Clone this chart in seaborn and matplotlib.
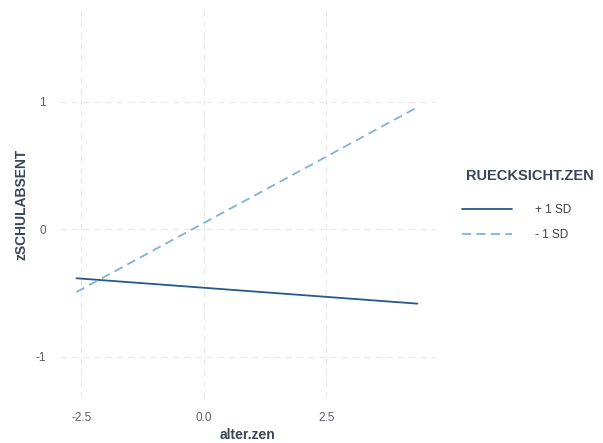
import matplotlib
matplotlib.use("Agg")
import matplotlib.pyplot as plt
import seaborn as sns
import pandas as pd
from matplotlib.lines import Line2D

# Simple slopes of zSCHULABSENT on alter.zen at +/- 1 SD of RUECKSICHT.ZEN
alter_zen = [-2.6, 4.36]
plus_1sd = [-0.386, -0.585]
minus_1sd = [-0.494, 0.955]
groups = ["+ 1 SD", "- 1 SD"]
x_ticks = [-2.5, 0.0, 2.5]
y_ticks = [-1, 0, 1]

df = pd.DataFrame({
    "alter.zen": alter_zen * 2,
    "zSCHULABSENT": plus_1sd + minus_1sd,
    "RUECKSICHT.ZEN": [groups[0]] * len(alter_zen) + [groups[1]] * len(alter_zen),
})

sns.set_theme(style="white")
plt.rcParams["font.family"] = ["Liberation Sans", "DejaVu Sans"]

colors = {"+ 1 SD": "#245a8c", "- 1 SD": "#80b1de"}
title_color = "#3a4556"

fig = plt.figure(figsize=(6.03, 4.43), dpi=100)
ax = fig.add_axes([60 / 603, 45 / 443, 375.5 / 603, 387 / 443])

sns.lineplot(data=df, x="alter.zen", y="zSCHULABSENT", hue="RUECKSICHT.ZEN",
             palette=colors, legend=False, ax=ax, linewidth=1.3)
ax.lines[0].set_linestyle("-")
ax.lines[1].set_dashes((5, 3))

ax.set_xlim(-2.936, 4.73)
ax.set_ylim(-1.325, 1.71)
ax.set_xticks(x_ticks)
ax.set_xticklabels(["-2.5", "0.0", "2.5"])
ax.set_yticks(y_ticks)
ax.set_yticklabels(["-1", "0", "1"])

grid_kw = dict(color="#e8e8e8", linewidth=0.9, linestyle=(0, (5, 4)), zorder=0)
for xv in x_ticks:
    ax.axvline(xv, **grid_kw)
for yv in y_ticks:
    ax.axhline(yv, **grid_kw)
ax.set_axisbelow(True)

for s in ax.spines.values():
    s.set_visible(False)
ax.tick_params(axis="both", length=0, labelsize=8.5, labelcolor="#5a5f66")
ax.tick_params(axis="x", pad=10)
ax.tick_params(axis="y", pad=10)

ax.set_xlabel("alter.zen", fontsize=10, fontweight="bold", color=title_color, labelpad=3)
ax.set_ylabel("zSCHULABSENT", fontsize=10, fontweight="bold", color=title_color, labelpad=5)

# Legend: title drawn as its own text, entries below it
fig.text(466 / 603, 1 - 176 / 443, "RUECKSICHT.ZEN", fontsize=10.5, fontweight="bold",
         color=title_color, va="center", ha="left")
handles = [
    Line2D([], [], color=colors["+ 1 SD"], linewidth=1.3, linestyle="-"),
    Line2D([], [], color=colors["- 1 SD"], linewidth=1.3, dashes=(5, 3)),
]
leg = fig.legend(handles, groups, loc="upper left",
                 bbox_to_anchor=(462 / 603, 1 - 204 / 443), frameon=False,
                 fontsize=8.5, handlelength=4.2, handletextpad=2.0,
                 labelspacing=1.07, borderaxespad=0, borderpad=0)
for t in leg.get_texts():
    t.set_color("#3a3f46")

fig.savefig("out.png", dpi=100)
